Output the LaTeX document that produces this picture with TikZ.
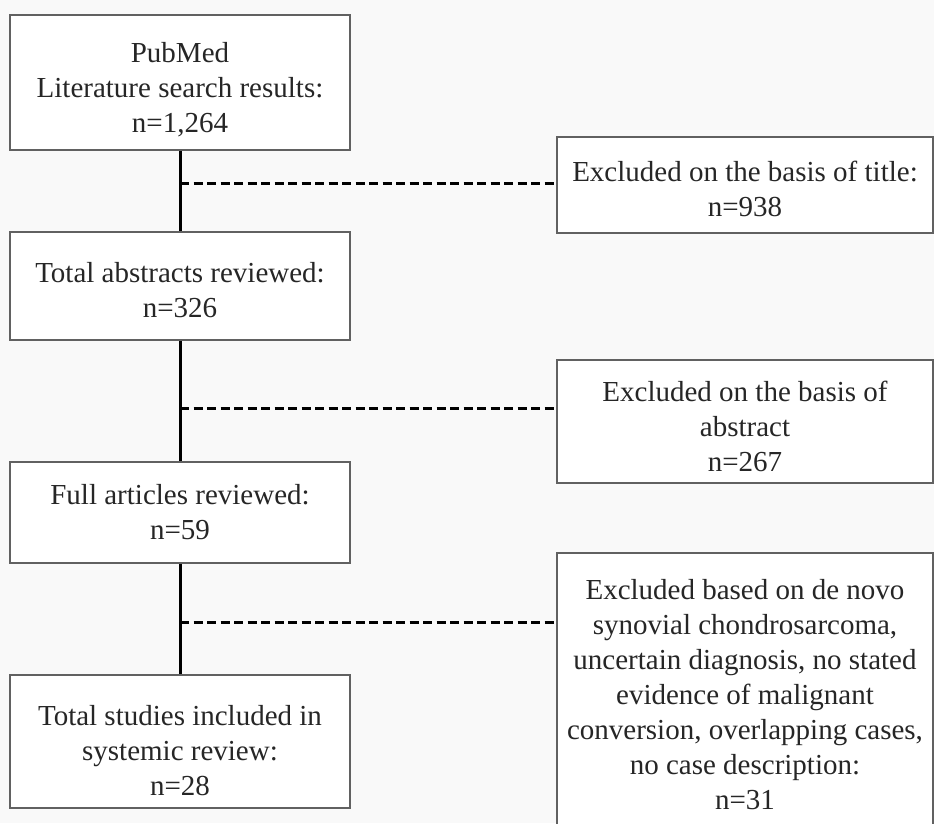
\documentclass[tikz,border=0pt]{standalone}
\usepackage{fontspec}
\setmainfont{Liberation Serif}
\newcommand\dn[1]{\rule{0pt}{\dimexpr19.8pt+#1pt+#1pt\relax}}
\begin{document}
\begin{tikzpicture}[x=1pt,y=-1pt,
  box/.style={draw=black!62, line width=1.8pt, fill=white, align=center, inner sep=0pt,
              font=\fontsize{29}{35}\selectfont, text=black!85},
  flow/.style={line width=3pt, black},
  excl/.style={line width=3pt, black, dash pattern=on 9pt off 4.5pt}]
\fill[black!2.5] (0,0) rectangle (934,823);
\useasboundingbox (0,0) rectangle (934,823);
\begin{scope}
\clip (0,0) rectangle (934,823);
% left column
\node[box, minimum width=340pt, minimum height=135pt] (a) at (180,82.5)
  {\dn{7}PubMed\\Literature search results:\\n=1,264};
\node[box, minimum width=340pt, minimum height=108pt] (b) at (180,286)
  {\dn{4}Total abstracts reviewed:\\n=326};
\node[box, minimum width=340pt, minimum height=101pt] (c) at (180,512.5)
  {\dn{0}Full articles reviewed:\\n=59};
\node[box, minimum width=340pt, minimum height=133pt] (d) at (180,741.5)
  {\dn{9}Total studies included in\\systemic review:\\n=28};
% right column
\node[box, minimum width=376pt, minimum height=96pt] (r1) at (745,185)
  {\dn{4}Excluded on the basis of title:\\n=938};
\node[box, minimum width=376pt, minimum height=123pt] (r2) at (745,421.5)
  {\dn{5}Excluded on the basis of\\abstract\\n=267};
\node[box, minimum width=376pt, minimum height=284pt] (r3) at (745,695)
  {\dn{0}Excluded based on de novo\\synovial chondrosarcoma,\\uncertain diagnosis, no stated\\evidence of malignant\\conversion, overlapping cases,\\no case description:\\n=31};
% junctions
\coordinate (j1) at (180,183);
\coordinate (j2) at (180,408);
\coordinate (j3) at (180,622);
% connectors
\draw[flow] (a.south) -- (b.north);
\draw[flow] (b.south) -- (c.north);
\draw[flow] (c.south) -- (d.north);
\draw[excl] (j1) -- (j1 -| r1.west);
\draw[excl] (j2) -- (j2 -| r2.west);
\draw[excl] (j3) -- (j3 -| r3.west);
\end{scope}
\end{tikzpicture}
\end{document}
